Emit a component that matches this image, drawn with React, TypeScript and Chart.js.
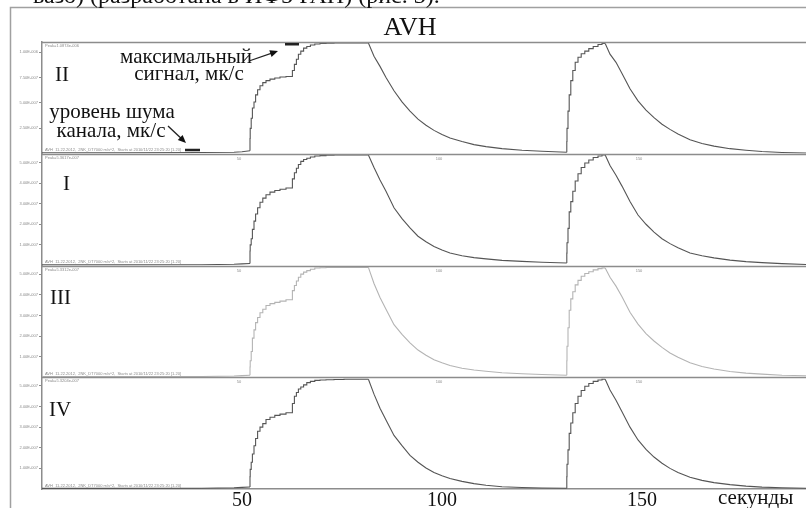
import React, { useEffect, useRef } from "react";
import { Chart, registerables } from "chart.js";

Chart.register(...registerables);

// ---- time grids (seconds) ----
const baseT = [0, 20, 40, 48, 50, 52];
const rise1T = [52, 52.05, 52.3, 52.6, 53, 53.4, 53.9, 54.5, 55.2, 56, 57, 58.2, 59.5, 61, 62.6, 63.1, 63.6, 64.1, 64.7, 65.4, 66.2, 67.1, 68.2, 69.5, 71, 73, 75.5, 78, 81.6];
const decay1T = [81.6, 83, 84.5, 86, 88, 90, 92, 94, 96, 98, 100, 102, 105, 108, 111, 115, 120, 125, 131.2];
const rise2T = [131.2, 131.25, 131.5, 131.8, 132.2, 132.7, 133.3, 134, 134.8, 135.7, 136.7, 137.8, 139, 140, 140.8];
const decay2T = [140.8, 142, 143.5, 145, 147, 149, 151, 153, 155, 157, 159, 162, 165, 168, 172, 176, 180, 185, 191];

// ---- panel II (units of 1e-6) ----
const iiBase = [0.01, 0.01, 0.012, 0.015, 0.02, 0.03];
const iiRise1 = [0.03, 0.15, 0.25, 0.35, 0.45, 0.51, 0.58, 0.63, 0.67, 0.7, 0.72, 0.735, 0.745, 0.755, 0.76, 0.82, 0.88, 0.93, 0.98, 1.01, 1.04, 1.055, 1.07, 1.08, 1.085, 1.088, 1.09, 1.09, 1.09];
const iiDecay1 = [1.09, 0.96, 0.86, 0.75, 0.62, 0.51, 0.42, 0.34, 0.28, 0.23, 0.19, 0.155, 0.12, 0.09, 0.07, 0.05, 0.035, 0.025, 0.015];
const iiRise2 = [0.015, 0.12, 0.25, 0.42, 0.58, 0.72, 0.82, 0.9, 0.95, 0.985, 1.01, 1.035, 1.055, 1.075, 1.085];
const iiDecay2 = [1.085, 0.98, 0.9, 0.79, 0.64, 0.52, 0.43, 0.355, 0.29, 0.24, 0.195, 0.137, 0.1, 0.075, 0.05, 0.035, 0.022, 0.013, 0.007];

// ---- panel I (units of 1e-7) ----
const iBase = [0.03, 0.03, 0.04, 0.06, 0.08, 0.1];
const iRise1 = [0.1, 0.7, 1.0, 1.3, 1.75, 2.15, 2.5, 2.8, 3.07, 3.27, 3.43, 3.56, 3.64, 3.7, 3.76, 4.2, 4.5, 4.72, 4.9, 5.05, 5.14, 5.2, 5.26, 5.31, 5.33, 5.35, 5.36, 5.36, 5.36];
const iDecay1 = [5.36, 4.75, 4.15, 3.6, 2.8, 2.27, 1.82, 1.42, 1.15, 0.92, 0.75, 0.61, 0.47, 0.38, 0.32, 0.25, 0.2, 0.16, 0.12];
const iRise2 = [0.12, 0.6, 1.1, 1.8, 2.6, 3.1, 3.6, 4.1, 4.45, 4.75, 4.97, 5.12, 5.24, 5.31, 5.36];
const iDecay2 = [5.36, 4.85, 4.38, 3.85, 3.1, 2.45, 2.0, 1.62, 1.3, 1.06, 0.86, 0.61, 0.47, 0.37, 0.26, 0.19, 0.14, 0.09, 0.05];

// ---- panel III (units of 1e-7) ----
const iiiBase = [0.03, 0.03, 0.04, 0.06, 0.08, 0.1];
const iiiRise1 = [0.1, 0.5, 0.8, 1.25, 1.9, 2.3, 2.65, 2.9, 3.13, 3.3, 3.48, 3.57, 3.63, 3.69, 3.76, 4.2, 4.45, 4.67, 4.85, 5.0, 5.1, 5.17, 5.24, 5.3, 5.31, 5.32, 5.33, 5.33, 5.33];
const iiiDecay1 = [5.33, 4.55, 3.87, 3.3, 2.55, 2.08, 1.67, 1.32, 1.07, 0.85, 0.7, 0.57, 0.44, 0.35, 0.29, 0.22, 0.17, 0.13, 0.1];
const iiiRise2 = [0.1, 0.8, 1.5, 2.4, 3.25, 3.8, 4.15, 4.48, 4.7, 4.9, 5.03, 5.12, 5.21, 5.27, 5.3];
const iiiDecay2 = [5.3, 4.85, 4.42, 3.9, 3.15, 2.58, 2.12, 1.76, 1.45, 1.18, 0.97, 0.7, 0.52, 0.4, 0.28, 0.2, 0.15, 0.1, 0.07];

// ---- panel IV (units of 1e-7) ----
const ivBase = [0.03, 0.03, 0.04, 0.06, 0.08, 0.1];
const ivRise1 = [0.1, 0.6, 0.95, 1.3, 1.7, 2.1, 2.45, 2.8, 3.0, 3.17, 3.37, 3.48, 3.57, 3.63, 3.7, 4.15, 4.5, 4.68, 4.85, 4.95, 5.05, 5.16, 5.22, 5.27, 5.29, 5.3, 5.31, 5.32, 5.32];
const ivDecay1 = [5.32, 4.6, 3.92, 3.35, 2.6, 2.1, 1.63, 1.3, 1.02, 0.8, 0.64, 0.51, 0.37, 0.26, 0.18, 0.11, 0.07, 0.05, 0.04];
const ivRise2 = [0.04, 0.6, 1.2, 1.9, 2.7, 3.2, 3.7, 4.15, 4.5, 4.78, 4.98, 5.12, 5.22, 5.29, 5.32];
const ivDecay2 = [5.32, 4.8, 4.3, 3.75, 3.0, 2.38, 1.92, 1.55, 1.25, 1.0, 0.8, 0.57, 0.42, 0.31, 0.21, 0.14, 0.09, 0.06, 0.04];

// ---- ticks / labels ----
const xTicks = [50, 100, 150];
const iiTicks = [0.25, 0.5, 0.75, 1.0];
const iiTickLabels = ["2.50E-007", "5.00E-007", "7.50E-007", "1.00E-006"];
const smallTicks = [1, 2, 3, 4, 5];
const smallTickLabels = ["1.00E-007", "2.00E-007", "3.00E-007", "4.00E-007", "5.00E-007"];
const panelNames = ["II", "I", "III", "IV"];
const peakTexts = ["Peak=1.0874e-006", "Peak=5.3617e-007", "Peak=5.3312e-007", "Peak=5.3204e-007"];
const footText = "AVH  11.22.2012,  2NK_DT7000 m/s^2,  Starts at 2010/11/22 23:25:20 [1.20]";
const maxMarkX = [60.75, 64.25];
const maxMarkY = 1.077;
const noiseMarkX = [35.75, 39.5];
const noiseMarkY = 0.037;

const SERIF = '"Liberation Serif", "DejaVu Serif", serif';
const SANS = '"Liberation Sans", "DejaVu Sans", sans-serif';

const seg = (t: number[], v: number[]) => t.map((x, i) => ({ x, y: v[i] as number | null }));
const smooth = (b: number[], d1: number[], d2: number[]) => [
  ...seg(baseT, b), { x: 66, y: null }, ...seg(decay1T, d1), { x: 136, y: null }, ...seg(decay2T, d2),
];
const rises = (r1: number[], r2: number[]) => [...seg(rise1T, r1), { x: 106, y: null }, ...seg(rise2T, r2)];

const panels = [
  { id: "yII", color: "#555555", max: 1.1, ticks: iiTicks, labels: iiTickLabels, s: smooth(iiBase, iiDecay1, iiDecay2), r: rises(iiRise1, iiRise2) },
  { id: "yI", color: "#555555", max: 5.42, ticks: smallTicks, labels: smallTickLabels, s: smooth(iBase, iDecay1, iDecay2), r: rises(iRise1, iRise2) },
  { id: "yIII", color: "#b4b4b4", max: 5.42, ticks: smallTicks, labels: smallTickLabels, s: smooth(iiiBase, iiiDecay1, iiiDecay2), r: rises(iiiRise1, iiiRise2) },
  { id: "yIV", color: "#555555", max: 5.42, ticks: smallTicks, labels: smallTickLabels, s: smooth(ivBase, ivDecay1, ivDecay2), r: rises(ivRise1, ivRise2) },
];

const labelOffsets = [
  { x: 55, y: 39 },
  { x: 63, y: 36 },
  { x: 50, y: 38 },
  { x: 49, y: 39 },
];

function arrow(ctx: CanvasRenderingContext2D, x1: number, y1: number, x2: number, y2: number) {
  const a = Math.atan2(y2 - y1, x2 - x1);
  ctx.beginPath();
  ctx.moveTo(x1, y1);
  ctx.lineTo(x2 - 5 * Math.cos(a), y2 - 5 * Math.sin(a));
  ctx.stroke();
  ctx.beginPath();
  ctx.moveTo(x2, y2);
  ctx.lineTo(x2 - 8 * Math.cos(a) + 3.5 * Math.sin(a), y2 - 8 * Math.sin(a) - 3.5 * Math.cos(a));
  ctx.lineTo(x2 - 8 * Math.cos(a) - 3.5 * Math.sin(a), y2 - 8 * Math.sin(a) + 3.5 * Math.cos(a));
  ctx.closePath();
  ctx.fill();
}

const deco = {
  id: "deco",
  afterDraw(chart: any) {
    const { ctx, chartArea, scales } = chart;
    const xs = scales.x;
    ctx.save();
    // figure frame
    ctx.strokeStyle = "#a0a0a0";
    ctx.lineWidth = 1.5;
    ctx.beginPath();
    ctx.moveTo(10.5, 508);
    ctx.lineTo(10.5, 7.5);
    ctx.lineTo(806, 7.5);
    ctx.stroke();
    // clipped caption from page
    ctx.fillStyle = "#111";
    ctx.font = `24px ${SERIF}`;
    ctx.textAlign = "left";
    ctx.textBaseline = "alphabetic";
    ctx.fillText("вазо) (разработана в ИФЗ РАН) (рис. 3).", 33, 3);
    // title
    ctx.font = `26px ${SERIF}`;
    ctx.textAlign = "center";
    ctx.fillText("AVH", 410, 35);
    // panel frames, labels, small texts
    panels.forEach((p, i) => {
      const s = scales[p.id];
      ctx.strokeStyle = "#8c8c8c";
      ctx.lineWidth = 1.5;
      ctx.beginPath();
      ctx.moveTo(chartArea.left, Math.round(s.top) + 0.5);
      ctx.lineTo(chartArea.right, Math.round(s.top) + 0.5);
      ctx.stroke();
      ctx.fillStyle = "#111";
      ctx.textAlign = "left";
      ctx.font = `21px ${SERIF}`;
      ctx.fillText(panelNames[i], labelOffsets[i].x, s.top + labelOffsets[i].y);
      ctx.fillStyle = "#8a8a8a";
      ctx.font = `4px ${SANS}`;
      ctx.fillText(peakTexts[i], chartArea.left + 3, s.top + 5);
      ctx.fillText(footText, chartArea.left + 3, s.bottom - 2.5);
      if (i > 0) {
        ctx.textAlign = "center";
        xTicks.forEach((v) => ctx.fillText(String(v), xs.getPixelForValue(v) - 3, s.top + 6));
      }
    });
    // annotations in panel II
    const sII = scales.yII;
    ctx.fillStyle = "#111";
    ctx.textAlign = "center";
    ctx.font = `21px ${SERIF}`;
    ctx.fillText("максимальный", 186, 63);
    ctx.fillText("сигнал, мк/с", 189, 80);
    ctx.fillText("уровень шума", 112, 118);
    ctx.fillText("канала, мк/с", 111, 137);
    ctx.strokeStyle = "#222";
    ctx.lineWidth = 1.3;
    arrow(ctx, 249, 61, 278, 51);
    arrow(ctx, 168, 126, 186, 143);
    ctx.lineWidth = 2.5;
    ctx.beginPath();
    ctx.moveTo(xs.getPixelForValue(maxMarkX[0]), sII.getPixelForValue(maxMarkY));
    ctx.lineTo(xs.getPixelForValue(maxMarkX[1]), sII.getPixelForValue(maxMarkY));
    ctx.moveTo(xs.getPixelForValue(noiseMarkX[0]), sII.getPixelForValue(noiseMarkY));
    ctx.lineTo(xs.getPixelForValue(noiseMarkX[1]), sII.getPixelForValue(noiseMarkY));
    ctx.stroke();
    // x axis unit
    ctx.textAlign = "left";
    ctx.font = `21px ${SERIF}`;
    ctx.fillText("секунды", 718, 504);
    ctx.restore();
  },
};

function yScale(p: (typeof panels)[number], weight: number) {
  return {
    type: "linear",
    position: "left",
    stack: "panels",
    stackWeight: 1,
    weight,
    min: 0,
    max: p.max,
    afterBuildTicks: (s: any) => {
      s.ticks = p.ticks.map((v) => ({ value: v }));
    },
    afterFit: (s: any) => {
      s.width = 30;
    },
    grid: { display: true, drawOnChartArea: false, drawTicks: true, tickLength: 3, color: "#8c8c8c" },
    border: { display: true, color: "#8c8c8c", width: 1.5 },
    ticks: {
      font: { family: SANS, size: 4 },
      color: "#8a8a8a",
      padding: 1,
      autoSkip: false,
      callback: (v: number) => {
        const k = p.ticks.indexOf(v);
        return k >= 0 ? p.labels[k] : "";
      },
    },
  };
}

export default function App() {
  const ref = useRef<HTMLCanvasElement>(null);
  useEffect(() => {
    const datasets: any[] = [];
    panels.forEach((p) => {
      datasets.push({ data: p.s, yAxisID: p.id, borderColor: p.color, borderWidth: 1.1, pointRadius: 0, spanGaps: false });
      datasets.push({ data: p.r, yAxisID: p.id, borderColor: p.color, borderWidth: 1.1, pointRadius: 0, stepped: "after", spanGaps: false });
    });
    const chart = new Chart(ref.current as HTMLCanvasElement, {
      type: "line",
      data: { datasets },
      options: {
        animation: false,
        responsive: true,
        maintainAspectRatio: false,
        layout: { padding: { top: 42, left: 12, right: 0, bottom: 0 } },
        plugins: { legend: { display: false }, tooltip: { enabled: false }, title: { display: false } },
        scales: {
          x: {
            type: "linear",
            position: "bottom",
            min: 0,
            max: 191,
            afterBuildTicks: (s: any) => {
              s.ticks = xTicks.map((v) => ({ value: v }));
            },
            afterFit: (s: any) => {
              s.height = 19;
            },
            grid: { display: false, drawTicks: false },
            border: { display: true, color: "#8c8c8c", width: 1.5 },
            ticks: { font: { family: SERIF, size: 20 }, color: "#111", padding: 0, maxRotation: 0, autoSkip: false },
          },
          yIV: yScale(panels[3], 1),
          yIII: yScale(panels[2], 2),
          yI: yScale(panels[1], 3),
          yII: yScale(panels[0], 4),
        } as any,
      },
      plugins: [deco],
    } as any);
    return () => chart.destroy();
  }, []);
  return (
    <div style={{ position: "absolute", left: 0, top: 0, width: 806, height: 508, background: "#fff" }}>
      <canvas ref={ref} />
    </div>
  );
}
